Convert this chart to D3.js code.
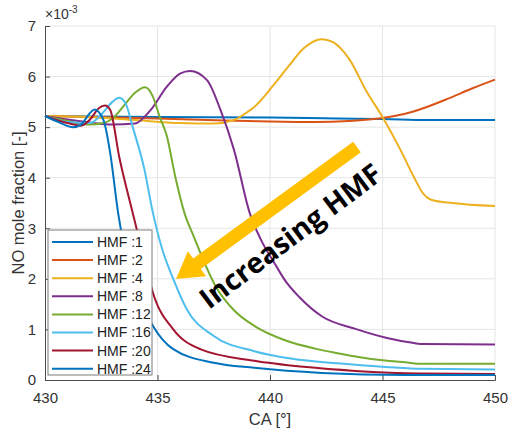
<!DOCTYPE html>
<html>
<head>
<meta charset="utf-8">
<script src="https://cdn.jsdelivr.net/npm/d3@7"></script>
<style>
  body { margin: 0; background: #fff; }
  svg { display: block; font-family: "Liberation Sans", Arial, sans-serif; }
</style>
</head>
<body>
<svg width="508" height="432"></svg>
<script>
// values are NO mole fraction in units of 1e-3, against crank angle (CA)
const hmfLabels = ["HMF :1", "HMF :2", "HMF :4", "HMF :8", "HMF :12", "HMF :16", "HMF :20", "HMF :24"];
const hmfColors = ["#0072BD", "#D95319", "#EDB120", "#7E2F8E", "#77AC30", "#4DBEEE", "#A2142F", "#0072BD"];

const hmf1 = [[430,5.22],[432,5.21],[435,5.2],[440,5.19],[443,5.17],[445,5.16],[447,5.14],[450,5.14]];
const hmf2 = [[430,5.22],[432,5.2],[435,5.17],[438,5.13],[440,5.11],[442,5.1],[443.5,5.12],[445,5.18],[446.3,5.3],[448,5.58],[449,5.77],[450,5.94]];
const hmf4 = [[430,5.22],[432,5.2],[434,5.14],[436,5.08],[437.5,5.07],[438.4,5.14],[439,5.3],[439.3,5.4],[440.1,5.8],[440.8,6.19],[441.5,6.56],[442.3,6.74],[442.8,6.68],[443.5,6.36],[444.3,5.7],[445,5.2],[445.8,4.55],[446.4,4.01],[446.8,3.69],[447.2,3.56],[448.1,3.5],[450,3.44]];
const hmf8 = [[430,5.22],[431,5.15],[432,5.09],[433,5.05],[434,5.07],[434.7,5.34],[435.4,5.79],[436,6.06],[436.45,6.11],[437.2,5.93],[437.8,5.34],[438.4,4.55],[439.1,3.3],[439.6,2.77],[440.2,2.31],[440.7,1.95],[441.3,1.64],[442.3,1.26],[443.8,1.01],[445.2,0.83],[446.4,0.73],[446.8,0.71],[450,0.7]];
const hmf12 = [[430,5.22],[431,5.12],[432,5.05],[432.6,5.08],[433,5.17],[433.5,5.42],[434,5.68],[434.45,5.79],[434.8,5.6],[435.1,5.2],[435.4,4.85],[435.8,4.0],[436.2,3.3],[436.6,2.85],[437.6,1.84],[438.4,1.38],[439.3,1.07],[440.7,0.78],[442,0.62],[443,0.53],[444,0.45],[445,0.39],[446,0.35],[446.8,0.32],[450,0.32]];
const hmf16 = [[430,5.22],[431,5.1],[432,5.08],[432.5,5.25],[433,5.5],[433.3,5.58],[433.6,5.45],[433.9,5.0],[434.4,4.2],[434.8,3.3],[435.2,2.6],[435.7,2.0],[436.3,1.4],[437.5,0.87],[439.3,0.57],[441,0.42],[443,0.33],[445,0.26],[446.7,0.22],[450,0.21]];
const hmf20 = [[430,5.22],[431,5.08],[431.6,5.03],[432,5.15],[432.4,5.38],[432.67,5.43],[432.9,5.34],[433.3,4.41],[433.9,3.3],[434.4,2.4],[434.8,1.72],[435.7,1.0],[436.9,0.61],[439.3,0.38],[441.5,0.26],[443.8,0.18],[446.7,0.13],[450,0.12]];
const hmf24 = [[430,5.22],[430.6,5.1],[431.25,5.0],[431.6,5.05],[432,5.28],[432.2,5.35],[432.6,5.14],[432.9,4.48],[433.25,3.3],[433.6,2.45],[434.3,1.52],[434.8,1.07],[435.7,0.61],[437.5,0.34],[439.3,0.24],[442.3,0.14],[446,0.1],[450,0.1]];

const series = [hmf1, hmf2, hmf4, hmf8, hmf12, hmf16, hmf20, hmf24];
const xTicks = [430, 435, 440, 445, 450];
const yTicks = [0, 1, 2, 3, 4, 5, 6, 7];

const svg = d3.select("svg");
const margin = {left: 45, right: 13, top: 26, bottom: 52};
const W = 508, H = 432;

const x = d3.scaleLinear().domain([430, 450]).range([margin.left, W - margin.right]);
const y = d3.scaleLinear().domain([0, 7]).range([H - margin.bottom, margin.top]);

// grid
svg.append("g").selectAll("line.gx")
    .data(xTicks.slice(1))
    .join("line")
    .attr("x1", d => x(d)).attr("x2", d => x(d))
    .attr("y1", y(0)).attr("y2", y(7))
    .attr("stroke", "#e6e6e6");
svg.append("g").selectAll("line.gy")
    .data(yTicks.slice(1))
    .join("line")
    .attr("x1", x(430)).attr("x2", x(450))
    .attr("y1", d => y(d)).attr("y2", d => y(d))
    .attr("stroke", "#e6e6e6");

// axes
const xAxis = svg.append("g")
    .attr("transform", `translate(0,${y(0)})`)
    .call(d3.axisBottom(x).tickValues(xTicks).tickSize(-5).tickPadding(12).tickFormat(d3.format("d")));
const yAxis = svg.append("g")
    .attr("transform", `translate(${x(430)},0)`)
    .call(d3.axisLeft(y).tickValues(yTicks).tickSize(-5).tickPadding(9).tickFormat(d3.format("d")));
[xAxis, yAxis].forEach(a => {
    a.select(".domain").attr("stroke", "#4d4d4d");
    a.selectAll(".tick line").attr("stroke", "#4d4d4d");
    a.selectAll(".tick text").attr("fill", "#333").style("font-size", "15px")
        .style("font-family", "Liberation Sans, Arial, sans-serif");
});

// exponent label
const expo = svg.append("text")
    .attr("x", x(430)).attr("y", 19)
    .attr("fill", "#333").style("font-size", "14px");
expo.append("tspan").text("\u00d710");
expo.append("tspan").attr("dy", -6).style("font-size", "10px").text("-3");

// axis labels
svg.append("text")
    .attr("x", (x(430) + x(450)) / 2).attr("y", 425)
    .attr("text-anchor", "middle")
    .attr("fill", "#333").style("font-size", "16.5px")
    .text("CA [\u00b0]");
svg.append("text")
    .attr("transform", `translate(23.5,${(y(0) + y(7)) / 2}) rotate(-90)`)
    .attr("text-anchor", "middle")
    .attr("fill", "#333").style("font-size", "16.5px")
    .text("NO mole fraction [-]");

// lines
const line = d3.line()
    .x(d => x(d[0]))
    .y(d => y(d[1]))
    .curve(d3.curveMonotoneX);

svg.append("g").selectAll("path")
    .data(series)
    .join("path")
    .attr("d", line)
    .attr("fill", "none")
    .attr("stroke", (d, i) => hmfColors[i])
    .attr("stroke-width", 2);

// arrow annotation
const tail = [357, 147], tip = [176, 279];
const dx = tip[0] - tail[0], dy = tip[1] - tail[1];
const len = Math.hypot(dx, dy);
const ux = dx / len, uy = dy / len, nx = -uy, ny = ux;
const shaftW = 13, headW = 31, headL = 26;
const base = [tip[0] - ux * headL, tip[1] - uy * headL];
const pts = [
    [tail[0] + nx * shaftW / 2, tail[1] + ny * shaftW / 2],
    [base[0] + nx * shaftW / 2, base[1] + ny * shaftW / 2],
    [base[0] + nx * headW / 2, base[1] + ny * headW / 2],
    tip,
    [base[0] - nx * headW / 2, base[1] - ny * headW / 2],
    [base[0] - nx * shaftW / 2, base[1] - ny * shaftW / 2],
    [tail[0] - nx * shaftW / 2, tail[1] - ny * shaftW / 2]
];
svg.append("polygon")
    .attr("points", pts.map(p => p.join(",")).join(" "))
    .attr("fill", "#FFC000");

svg.append("text")
    .attr("transform", "translate(209,310) rotate(-37)")
    .attr("fill", "#000")
    .style("font-family", "Open Sans, sans-serif")
    .style("font-weight", "bold")
    .style("font-size", "28.5px")
    .text("Increasing HMF");

// legend
const lg = svg.append("g").attr("transform", "translate(48,230)");
lg.append("rect")
    .attr("width", 104).attr("height", 145)
    .attr("fill", "#fff").attr("stroke", "#7a7a7a");
const rows = lg.selectAll("g.row")
    .data(hmfLabels)
    .join("g")
    .attr("transform", (d, i) => `translate(0,${12 + i * 18.1})`);
rows.append("line")
    .attr("x1", 4).attr("x2", 45)
    .attr("stroke", (d, i) => hmfColors[i])
    .attr("stroke-width", 2);
rows.append("text")
    .attr("x", 49).attr("dy", "0.35em")
    .attr("fill", "#222").style("font-size", "14px")
    .text(d => d);
</script>
</body>
</html>
